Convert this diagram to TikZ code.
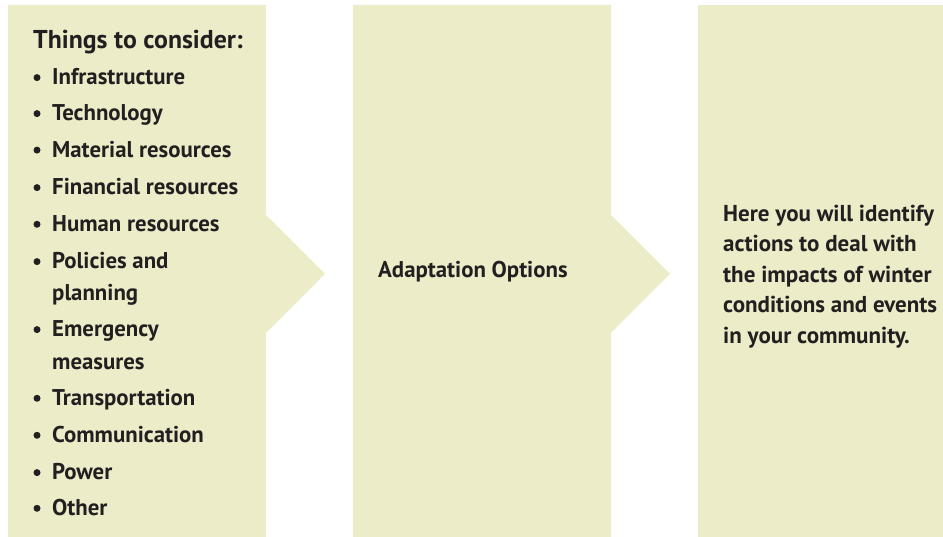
\documentclass[tikz,border=0pt]{standalone}
\usepackage{fontspec}
\setmainfont{PT Sans}
\usepackage{tikz}
\usetikzlibrary{positioning}
\definecolor{panel}{HTML}{ECECC9}
\definecolor{ink}{HTML}{231F20}
\tikzset{
  panelfill/.style={fill=panel,draw=none},
  item/.style={anchor=base west,inner sep=0pt,text=ink,font=\bfseries\fontsize{22.8}{30.5}\selectfont},
  heading/.style={item,font=\bfseries\fontsize{25.8}{30}\selectfont},
  dot/.style={circle,fill=ink,inner sep=0pt,minimum size=7pt},
  para/.style={anchor=north west,inner sep=0pt,align=left,text=ink,font=\bfseries\fontsize{23}{30.5}\selectfont}}

\begin{document}
\begin{tikzpicture}[x=1pt,y=1pt]
\useasboundingbox (0,0) rectangle (943,537);
\coordinate (tipA) at (325,263);
\coordinate (tipB) at (670,263);
\fill[panelfill] (8,0) -- (8,532) -- (266,532) -- (266,322) -- (tipA) -- (266,204) -- (266,0) -- cycle;
\fill[panelfill] (353,0) -- (353,532) -- (611,532) -- (611,322) -- (tipB) -- (611,204) -- (611,0) -- cycle;
\fill[panelfill] (698,0) rectangle (943,532);
\node[heading] (title) at (33,488) {Things to consider:};
\foreach \y/\t [count=\i] in {452/Infrastructure,416/Technology,379.5/Material resources,342/Financial resources,305.3/Human resources,268/Policies and,200/Emergency,131.3/Transportation,94.3/Communication,57/Power,21.3/Other}{
  \node[item] (item\i) at (52,\y) {\t};
  \node[dot] (dot\i) at (37,\y+7.4) {};
}
\node[item] (item6b) at (52,236) {planning};
\node[item] (item7b) at (52,167.5) {measures};
\node[item] (options) at (378,259) {Adaptation Options};
\node[para] (note) at (723,332.5) {Here you will identify\\actions to deal with\\the impacts of winter\\conditions and events\\in your community.};
\end{tikzpicture}
\end{document}
